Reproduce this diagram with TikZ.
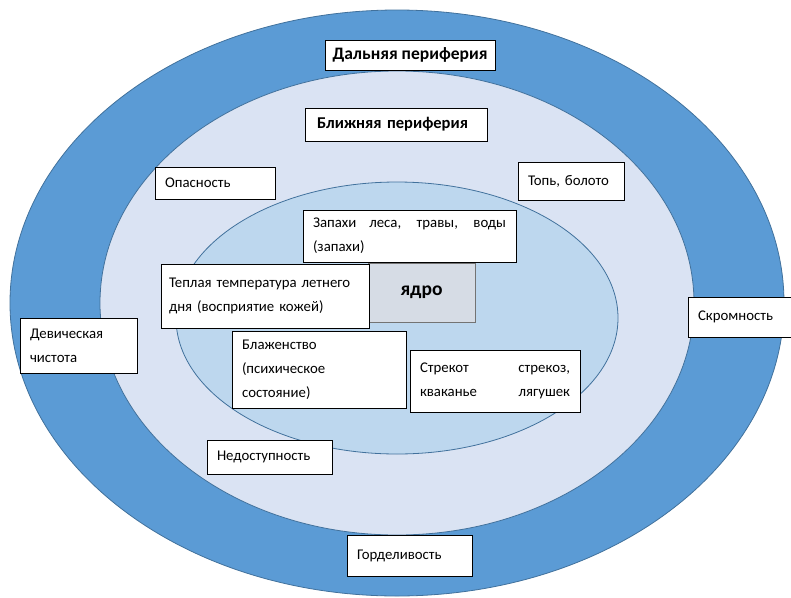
\documentclass[tikz,border=0pt]{standalone}
\usepackage{fontspec}
\setmainfont{Carlito}
\usepackage{tikz}
\usetikzlibrary{
  shadows,
}

\definecolor{ringblue}{HTML}{5B9BD5}
\definecolor{ringedge}{HTML}{41719C}
\definecolor{midblue}{HTML}{DAE3F3}
\definecolor{innerblue}{HTML}{BDD7EE}
\definecolor{coregray}{HTML}{D6DCE5}

\begin{document}
\begin{tikzpicture}[
  x=1pt, y=-1pt,
  font=\fontsize{14.8}{24}\selectfont,
  ring/.style={draw=ringedge, line width=0.8pt},
  lbl/.style={draw=black, fill=white, line width=0.8pt,
              inner xsep=10pt, inner ysep=3pt, align=left,
              drop shadow={shadow xshift=1.2pt, shadow yshift=-1.2pt,
                           fill=black, opacity=0.35}},
  head/.style={lbl, font=\fontsize{16.5}{24}\selectfont\bfseries},
]

\useasboundingbox (0,0) rectangle (791,597);

% three zones
\draw[ring, fill=ringblue] (397,303) ellipse (387 and 293);
\draw[ring, fill=midblue] (397,303) ellipse (297 and 232);
\draw[ring, fill=innerblue] (397,318) ellipse (221 and 136);

% zone titles
\node[head, inner xsep=4pt, minimum width=170pt, minimum height=30pt,
      font=\fontsize{17.5}{24}\selectfont\bfseries]
  (far) at (410,55) {Дальняя периферия};
\node[head, inner xsep=12pt, text width=158pt, minimum height=33pt] (near) at (396,124.5) {Ближняя периферия};

% core
\node[draw=black!55, fill=coregray, line width=0.8pt, minimum width=107pt,
      minimum height=59pt, font=\fontsize{19.5}{22}\selectfont\bfseries]
  (core) at (421.5,292.5) {ядро};

% inner zone
\node[lbl, text width=193pt, minimum height=52pt, align=justify] (smell) at (409.5,236)
  {Запахи леса, травы, воды (запахи)};
\node[lbl, inner xsep=8pt, text width=192pt, minimum height=64pt] (warm) at (265,296)
  {Теплая температура летнего\\дня (восприятие кожей)};
\node[lbl, text width=154pt, minimum height=77pt] (bliss) at (319,369.5)
  {Блаженство\\(психическое\\состояние)};
\node[lbl, text width=150pt, minimum height=62pt] (chirp) at (495,381)
  {Стрекот\hfill стрекоз,\\кваканье\hfill лягушек};

% near periphery
\node[lbl, text width=100pt, minimum height=32pt] (danger) at (215,183) {Опасность};
\node[lbl, text width=86pt, minimum height=38pt] (swamp) at (571,181) {Топь, болото};
\node[lbl, text width=105pt, minimum height=34pt] (inaccess) at (269.5,457) {Недоступность};

% far periphery
\node[lbl, text width=97pt, minimum height=55pt] (purity) at (78.5,345.5) {Девическая\\чистота};
\node[lbl, text width=83pt, minimum height=40pt] (modesty) at (739.5,317) {Скромность};
\node[lbl, text width=105pt, minimum height=41pt] (pride) at (409.5,555.5) {Горделивость};

\end{tikzpicture}
\end{document}
